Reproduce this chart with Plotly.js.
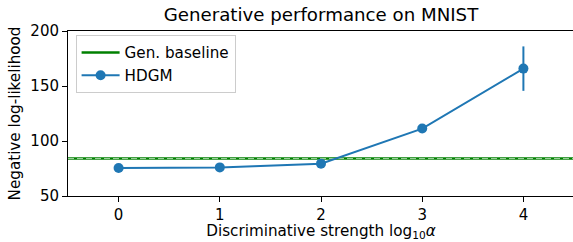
<!DOCTYPE html>
<html><head><meta charset="utf-8">
<script src="https://cdn.plot.ly/plotly-3.0.1.min.js"></script>
<style>html,body{margin:0;padding:0;overflow:hidden;background:#fff}</style>
</head><body>
<div id="chart" style="width:576px;height:242px"></div>
<script>
const strengths = [0, 1, 2, 3, 4];
const hdgmNLL = [75.5, 76.0, 79.4, 111.3, 165.8];
const hdgmErr = [1.0, 1.0, 1.2, 4.0, 20.2];
const baselineNLL = 84.0;
const xTickVals = [0, 1, 2, 3, 4];
const yTickVals = [50, 100, 150, 200];

const font = '"DejaVu Sans", sans-serif';
const xRange = [-0.5, 4.5];

const traces = [
  {x: xRange, y: [baselineNLL, baselineNLL], mode: 'lines', name: 'Gen. baseline',
   line: {color: '#008000', width: 2.5}, hoverinfo: 'skip'},
  {x: xRange, y: [baselineNLL, baselineNLL], mode: 'lines', showlegend: false,
   line: {color: 'rgba(190,225,190,0.9)', width: 1, dash: '6px,3px'}, hoverinfo: 'skip'},
  {x: strengths, y: hdgmNLL, mode: 'lines+markers', name: 'HDGM',
   line: {color: '#1f77b4', width: 2},
   marker: {color: '#1f77b4', size: 10},
   error_y: {type: 'data', array: hdgmErr, visible: true, color: '#1f77b4', thickness: 2, width: 0}}
];

const layout = {
  width: 576, height: 242,
  margin: {l: 68, r: 2, t: 31, b: 46},
  paper_bgcolor: '#fff', plot_bgcolor: '#fff',
  font: {family: font, size: 15, color: '#000'},
  title: {text: 'Generative performance on MNIST', font: {family: font, size: 18.2, color: '#000'},
          x: 0.5, xanchor: 'center', xref: 'paper', y: 1, yref: 'paper', yanchor: 'bottom', pad: {b: 10}},
  xaxis: {range: xRange, tickvals: xTickVals, ticks: 'outside', ticklen: 5, tickwidth: 1, tickcolor: '#000',
          showline: true, mirror: true, linecolor: '#000', linewidth: 1, showgrid: false, zeroline: false,
          tickfont: {size: 15},
          title: {text: 'Discriminative strength log<sub>10</sub><i>α</i>', font: {size: 15.2}, standoff: 4}},
  yaxis: {range: [50, 200], tickvals: yTickVals, ticks: 'outside', ticklen: 5, tickwidth: 1, tickcolor: '#000',
          showline: true, mirror: true, linecolor: '#000', linewidth: 1, showgrid: false, zeroline: false,
          tickfont: {size: 15},
          title: {text: 'Negative log-likelihood', font: {size: 15.2}, standoff: 6}},
  legend: {x: 0.015, y: 0.975, xanchor: 'left', yanchor: 'top', bgcolor: 'rgba(255,255,255,0.8)',
           bordercolor: '#cccccc', borderwidth: 1, font: {size: 15.2}, tracegroupgap: 0, itemwidth: 38},
  showlegend: true
};

Plotly.newPlot('chart', traces, layout, {staticPlot: true, displayModeBar: false});
</script>
</body></html>
